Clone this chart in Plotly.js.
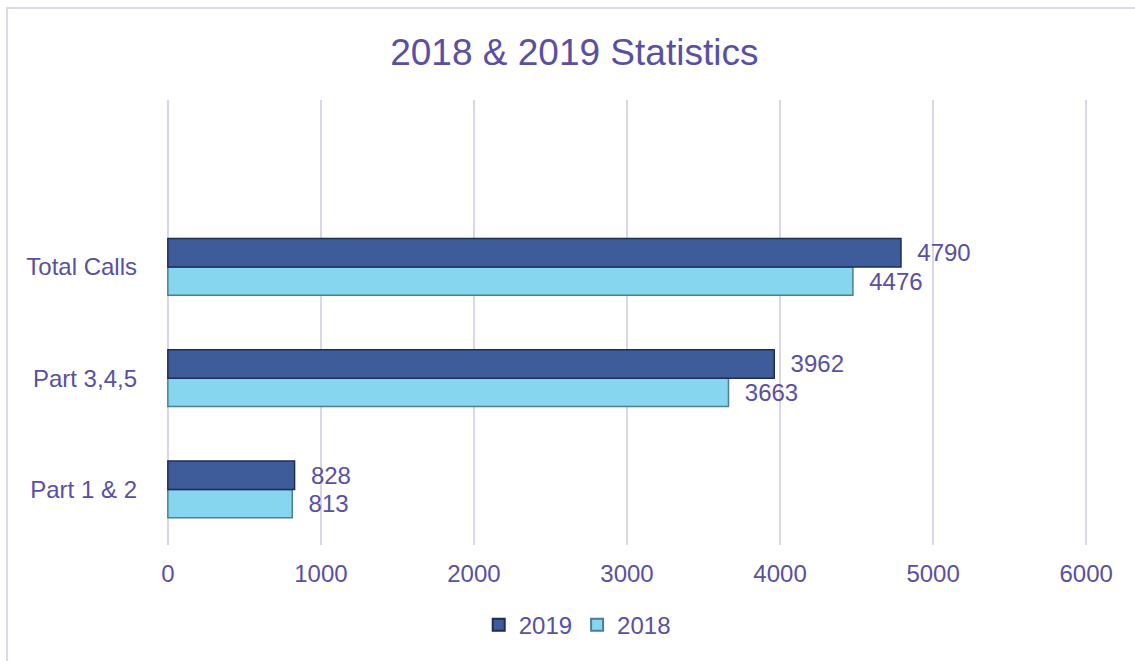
<!DOCTYPE html>
<html>
<head>
<meta charset="utf-8">
<script src="https://cdn.plot.ly/plotly-3.0.1.min.js"></script>
<style>
  html, body { margin: 0; padding: 0; background: #ffffff; }
  #wrap { position: relative; width: 1135px; height: 661px; overflow: hidden; }
  #chart { width: 1135px; height: 661px; }
  #frame { position: absolute; left: 6px; top: 7px; width: 1140px; height: 670px;
           border: 2px solid #dcd9ec; box-sizing: border-box; pointer-events: none; }
</style>
</head>
<body>
<div id="wrap">
  <div id="chart"></div>
  <div id="frame"></div>
</div>
<script>
const categories = ["Part 1 & 2", "Part 3,4,5", "Total Calls"];
const values2019 = [828, 3962, 4790];
const values2018 = [813, 3663, 4476];
const seriesNames = ["2019", "2018"];
const xTicks = [0, 1000, 2000, 3000, 4000, 5000, 6000];

const textColor = "#5a4fa0";
const fontFamily = "Liberation Sans, Arial, sans-serif";

const trace2018 = {
  type: "bar", orientation: "h", name: seriesNames[1],
  y: categories, x: values2018,
  marker: { color: "#86d6ef", line: { color: "#4f7d95", width: 1.5 } },
  text: values2018, texttemplate: "  %{x}", textposition: "outside",
  textfont: { color: textColor, size: 24, family: fontFamily },
  cliponaxis: false, hoverinfo: "x+name"
};
const trace2019 = {
  type: "bar", orientation: "h", name: seriesNames[0],
  y: categories, x: values2019,
  marker: { color: "#3f5c9a", line: { color: "#1e2b52", width: 1.5 } },
  text: values2019, texttemplate: "  %{x}", textposition: "outside",
  textfont: { color: textColor, size: 24, family: fontFamily },
  cliponaxis: false, hoverinfo: "x+name"
};

const layout = {
  width: 1135, height: 661,
  margin: { l: 166, r: 47, t: 100, b: 116 },
  paper_bgcolor: "#ffffff", plot_bgcolor: "#ffffff",
  font: { family: fontFamily, color: textColor, size: 24 },
  title: { text: "2018 & 2019 Statistics", font: { size: 37, color: textColor, family: fontFamily },
           x: 0.506, xref: "container", y: 0.922, yref: "container", yanchor: "middle" },
  barmode: "group", bargap: 0.49, bargroupgap: 0,
  xaxis: {
    range: [-12, 6012], tickvals: xTicks, ticktext: xTicks.map(String),
    showgrid: true, gridcolor: "#d9d6ea", gridwidth: 2,
    zeroline: true, zerolinecolor: "#d9d6ea", zerolinewidth: 2,
    showline: false, ticks: "",
    ticklabelstandoff: 12,
    tickfont: { size: 24, color: textColor }
  },
  yaxis: {
    type: "category", categoryorder: "array", categoryarray: categories,
    range: [-0.5, 3.5], showgrid: false, zeroline: false, showline: false, ticks: "",
    ticklabelstandoff: 28,
    tickfont: { size: 24, color: textColor }
  },
  showlegend: true,
  legend: { orientation: "h", traceorder: "reversed", x: 0.446, xanchor: "center",
            y: -0.18, yanchor: "middle", font: { size: 24, color: textColor },
            itemwidth: 30, itemsizing: "constant" }
};

Plotly.newPlot("chart", [trace2018, trace2019], layout, { displayModeBar: false, staticPlot: true });
</script>
</body>
</html>
